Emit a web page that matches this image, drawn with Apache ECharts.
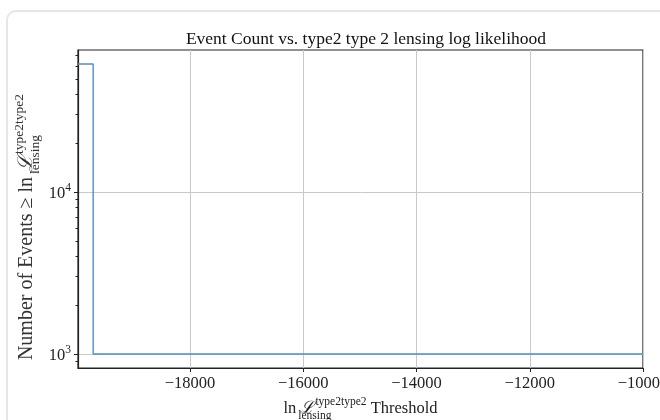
<!DOCTYPE html>
<html><head><meta charset="utf-8">
<script src="https://cdn.jsdelivr.net/npm/echarts@6/dist/echarts.min.js"></script>
<style>
html,body{margin:0;padding:0;background:#fff;width:660px;height:420px;overflow:hidden;}
#card{position:absolute;left:6px;top:10px;width:720px;height:480px;border:2px solid #e3e6ea;border-radius:10px;box-sizing:border-box;}
#chart{position:absolute;left:0;top:0;width:660px;height:420px;}
</style></head><body>
<div id="card"></div>
<div id="chart"></div>
<script>
// Data
const thresholds = [-19978, -19710, -10000];
const eventCounts = [61700, 1000, 1000];
const xTickValues = [-18000, -16000, -14000, -12000, -10000];
const yMajorTicks = [1000, 10000];
const yMinorTicks = [900, 2000, 3000, 4000, 5000, 6000, 7000, 8000, 9000, 20000, 30000, 40000, 50000, 60000, 70000];
const xRange = [-19978, -10000];
const yRange = [820, 75300];
const titleText = 'Event Count vs. type2 type 2 lensing log likelihood';

const SERIF = '"Liberation Serif", "DejaVu Serif", serif';
const INK = '#222';

const chart = echarts.init(document.getElementById('chart'), null, {renderer: 'canvas'});

function minusFmt(v) {
  return String(v).replace('-', '\u2212');
}
function powFmt(v) {
  const e = Math.log10(v);
  const r = Math.round(e);
  if (Math.abs(e - r) < 1e-6) return '{b|10}{s|' + r + '}';
  return '';
}

function makeRich(main, small, lh, color) {
  return {
    t: {fontFamily: SERIF, fontSize: main, color: color, lineHeight: lh, verticalAlign: 'middle'},
    L: {fontFamily: SERIF, fontSize: main + 0.5, fontStyle: 'italic', color: color, lineHeight: lh, verticalAlign: 'middle'},
    sub: {fontFamily: SERIF, fontSize: small, color: color, lineHeight: lh, verticalAlign: 'bottom', width: 1, align: 'left'},
    sup: {fontFamily: SERIF, fontSize: small, color: color, lineHeight: lh, verticalAlign: 'top'}
  };
}
const nameText = (prefix, suffix) =>
  (prefix ? '{t|' + prefix + '}' : '') + '{t|ln }{L|\u2112}{sub|lensing}{sup|type2type2}' + (suffix ? '{t|' + suffix + '}' : '');

const option = {
  animation: false,
  backgroundColor: 'transparent',
  title: {
    text: titleText,
    left: 361,
    textAlign: 'center',
    top: 25,
    textStyle: {fontFamily: SERIF, fontSize: 17.5, fontWeight: 'normal', color: '#111'}
  },
  grid: {
    left: 78, right: 17, top: 50, bottom: 52,
    outerBoundsMode: 'none',
    containLabel: false,
    show: true, borderColor: INK, borderWidth: 1.2, backgroundColor: 'transparent'
  },
  xAxis: {
    type: 'value',
    min: xRange[0], max: xRange[1],
    name: nameText('', ' Threshold'),
    nameLocation: 'middle',
    nameGap: 28,
    nameMoveOverlap: false,
    nameTextStyle: {rich: makeRich(16.5, 11.5, 26, INK)},
    axisLine: {show: true, onZero: false, lineStyle: {color: INK, width: 1.2}},
    axisTick: {show: true, inside: false, length: 4, lineStyle: {color: INK, width: 1}, customValues: xTickValues},
    axisLabel: {
      customValues: xTickValues,
      formatter: minusFmt,
      fontFamily: SERIF, fontSize: 16.5, color: INK, margin: 7,
      hideOverlap: false
    },
    splitLine: {show: true, lineStyle: {color: '#c9c9c9', width: 1}}
  },
  yAxis: [{
    type: 'log',
    logBase: 10,
    min: yRange[0], max: yRange[1],
    name: nameText('Number of Events \u2265 ', ''),
    nameLocation: 'middle',
    nameRotate: 90,
    nameGap: 36,
    nameMoveOverlap: false,
    nameTextStyle: {rich: makeRich(20, 13.5, 30, '#333'), padding: [0, 36, 0, 0]},
    axisLine: {show: true, lineStyle: {color: INK, width: 1.2}},
    axisTick: {show: true, inside: false, length: 4, lineStyle: {color: INK, width: 1}, customValues: yMajorTicks},
    axisLabel: {
      customValues: yMajorTicks,
      formatter: powFmt,
      margin: 7,
      rich: {
        b: {fontFamily: SERIF, fontSize: 16.5, color: INK, verticalAlign: 'bottom', lineHeight: 20},
        s: {fontFamily: SERIF, fontSize: 11.5, color: INK, verticalAlign: 'top', lineHeight: 20}
      }
    },
    splitLine: {show: true, lineStyle: {color: '#c9c9c9', width: 1}}
  }, {
    type: 'log',
    logBase: 10,
    min: yRange[0], max: yRange[1],
    position: 'left',
    offset: 0,
    axisLine: {show: false},
    axisTick: {show: true, inside: false, length: 2.5, lineStyle: {color: INK, width: 1}, customValues: yMinorTicks},
    axisLabel: {show: false},
    splitLine: {show: false}
  }],
  series: [{
    type: 'line',
    step: 'end',
    data: thresholds.map((x, i) => [x, eventCounts[i]]),
    showSymbol: false,
    symbol: 'none',
    lineStyle: {color: '#4f8fcc', width: 1.4},
    z: 3
  }]
};
chart.setOption(option);
</script>
</body></html>
